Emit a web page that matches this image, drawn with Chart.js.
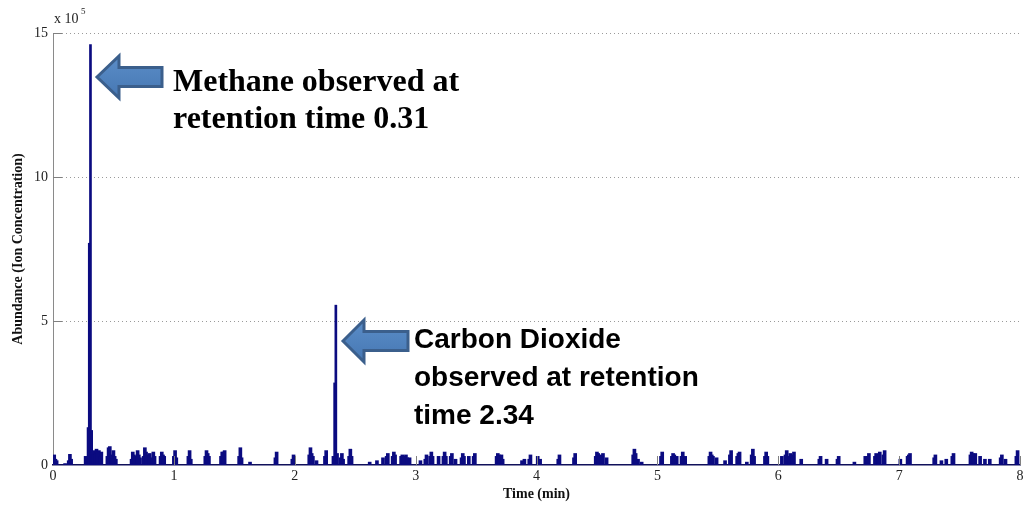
<!DOCTYPE html>
<html>
<head>
<meta charset="utf-8">
<script src="https://cdn.jsdelivr.net/npm/chart.js@4/dist/chart.umd.min.js"></script>
<style>
  html, body { margin: 0; padding: 0; background: #fff; }
  #wrap { width: 1031px; height: 506px; }
</style>
</head>
<body>
<div id="wrap"><canvas id="Chart" width="1031" height="506"></canvas></div>
<script>
// 主ピーク（メタン・二酸化炭素） 時間[min] / 強度[x10^5]
var peakTimes  = [0.29, 0.30, 0.31, 0.32, 2.33, 2.34];
var peakValues = [1.3,  7.7,  14.6, 1.2,  2.85, 5.55];

// ベースラインのノイズ（各ピークの頂点） 時間[min] / 強度[x10^5]
var noiseTimes = [
  0.01, 0.03, 0.10, 0.14, 0.27, 0.34, 0.36, 0.38, 0.40, 0.46, 0.47, 0.50, 0.52,
  0.66, 0.68, 0.70, 0.72, 0.76, 0.78, 0.80, 0.83, 0.90, 0.92, 1.01, 1.13, 1.27,
  1.29, 1.40, 1.42, 1.55, 1.63, 1.85, 1.99, 2.13, 2.15, 2.18, 2.26, 2.35, 2.39,
  2.46, 2.62, 2.68, 2.73, 2.77, 2.82, 2.89, 2.92, 2.95, 3.04, 3.09, 3.13, 3.19,
  3.24, 3.30, 3.33, 3.39, 3.44, 3.49, 3.68, 3.71, 3.88, 3.90, 3.95, 4.01, 4.03,
  4.19, 4.32, 4.50, 4.53, 4.55, 4.58, 4.81, 4.84, 4.87, 5.04, 5.13, 5.16, 5.21,
  5.23, 5.44, 5.46, 5.49, 5.56, 5.61, 5.67, 5.68, 5.74, 5.79, 5.90, 6.03, 6.07,
  6.10, 6.13, 6.19, 6.35, 6.40, 6.50, 6.63, 6.72, 6.75, 6.81, 6.84, 6.88, 7.01,
  7.08, 7.09, 7.30, 7.35, 7.39, 7.45, 7.60, 7.63, 7.67, 7.71, 7.75, 7.85, 7.88,
  7.98
];
var noiseValues = [
  0.35, 0.15, 0.05, 0.37, 0.30, 0.50, 0.55, 0.50, 0.45, 0.60, 0.64, 0.50, 0.20,
  0.45, 0.30, 0.50, 0.25, 0.60, 0.35, 0.40, 0.45, 0.45, 0.30, 0.50, 0.50, 0.50,
  0.30, 0.45, 0.50, 0.60, 0.10, 0.45, 0.35, 0.60, 0.30, 0.15, 0.50, 0.40, 0.40,
  0.55, 0.10, 0.15, 0.25, 0.40, 0.45, 0.35, 0.35, 0.25, 0.15, 0.35, 0.45, 0.30,
  0.45, 0.40, 0.20, 0.40, 0.30, 0.40, 0.40, 0.35, 0.15, 0.20, 0.35, 0.30, 0.20,
  0.35, 0.40, 0.45, 0.35, 0.40, 0.25, 0.55, 0.20, 0.10, 0.45, 0.40, 0.30, 0.45,
  0.30, 0.45, 0.30, 0.25, 0.15, 0.50, 0.40, 0.45, 0.10, 0.55, 0.45, 0.30, 0.50,
  0.40, 0.45, 0.20, 0.30, 0.20, 0.30, 0.10, 0.30, 0.40, 0.40, 0.45, 0.50, 0.20,
  0.35, 0.40, 0.35, 0.15, 0.20, 0.40, 0.45, 0.40, 0.30, 0.20, 0.20, 0.35, 0.20,
  0.50
];

// ノイズの裾（肩）部分
var shoulderTimes = [
  0.02, 0.13, 0.15, 0.33, 0.35, 0.37, 0.39, 0.45, 0.48, 0.49, 0.51, 0.65, 0.67,
  0.71, 0.75, 0.77, 0.82, 0.84, 0.89, 0.91, 1.00, 1.02, 1.12, 1.14, 1.26, 1.28,
  1.39, 1.41, 1.54, 1.56, 1.84, 1.98, 2.12, 2.14, 2.25, 2.32, 2.38, 2.40, 2.45,
  2.47, 2.76, 2.81, 2.83, 2.88, 2.90, 2.93, 3.08, 3.12, 3.14, 3.23, 3.25, 3.29,
  3.38, 3.40, 3.48, 3.67, 3.69, 3.72, 3.94, 4.18, 4.31, 4.49, 4.51, 4.54, 4.80,
  4.82, 5.03, 5.12, 5.14, 5.20, 5.43, 5.45, 5.60, 5.66, 5.78, 5.80, 5.89, 5.91,
  6.06, 6.09, 6.12, 6.34, 6.49, 6.74, 6.80, 6.83, 6.87, 7.07, 7.29, 7.44, 7.59,
  7.61, 7.84, 7.97
];
var shoulderValues = [
  0.20, 0.15, 0.20, 0.35, 0.40, 0.45, 0.30, 0.30, 0.35, 0.20, 0.30, 0.20, 0.35,
  0.35, 0.30, 0.45, 0.25, 0.30, 0.30, 0.35, 0.30, 0.25, 0.30, 0.20, 0.30, 0.40,
  0.30, 0.45, 0.30, 0.25, 0.25, 0.20, 0.35, 0.40, 0.30, 0.30, 0.25, 0.20, 0.30,
  0.30, 0.30, 0.30, 0.35, 0.30, 0.30, 0.25, 0.20, 0.30, 0.30, 0.30, 0.30, 0.30,
  0.25, 0.30, 0.30, 0.30, 0.35, 0.20, 0.20, 0.20, 0.25, 0.30, 0.40, 0.30, 0.35,
  0.40, 0.30, 0.30, 0.35, 0.30, 0.30, 0.35, 0.35, 0.30, 0.35, 0.30, 0.30, 0.30,
  0.35, 0.30, 0.35, 0.20, 0.20, 0.30, 0.30, 0.35, 0.35, 0.30, 0.25, 0.30, 0.35,
  0.40, 0.25, 0.30
];

// 軸の目盛り
var xTicks = [0, 1, 2, 3, 4, 5, 6, 7, 8];
var yTicks = [0, 5, 10, 15];

var barColor = "#0b0b80";
var serif = "'Liberation Serif', 'Times New Roman', serif";

function toXY(xs, ys) {
  var out = [];
  for (var i = 0; i < xs.length; i++) out.push({ x: xs[i], y: ys[i] });
  return out;
}

// 矢印と注釈、内向きの目盛り線
var overlay = {
  id: "overlay",
  afterDraw: function (chart) {
    var c = chart.ctx;
    var xs = chart.scales.x, ys = chart.scales.y;
    var area = chart.chartArea;
    c.save();

    // inward ticks (matlab style)
    c.strokeStyle = "#808080";
    c.lineWidth = 1;
    xTicks.forEach(function (v) {
      if (v === 0) return;
      var px = Math.round(xs.getPixelForValue(v)) + 0.5;
      c.beginPath(); c.moveTo(px, area.bottom); c.lineTo(px, area.bottom - 9); c.stroke();
    });
    yTicks.forEach(function (v) {
      if (v === 0) return;
      var py = Math.round(ys.getPixelForValue(v)) + 0.5;
      c.beginPath(); c.moveTo(area.left, py); c.lineTo(area.left + 9, py); c.stroke();
    });

    // x 10^5
    c.fillStyle = "#222";
    c.font = "14px " + serif;
    c.textBaseline = "alphabetic";
    c.fillText("x 10", area.left + 1, area.top - 10);
    c.font = "9px " + serif;
    c.fillText("5", area.left + 28, area.top - 19);

    // block arrows
    function arrow(tipX, tipY, headX, headH, shaftH, tailX) {
      c.beginPath();
      c.moveTo(tipX, tipY);
      c.lineTo(headX, tipY - headH);
      c.lineTo(headX, tipY - shaftH);
      c.lineTo(tailX, tipY - shaftH);
      c.lineTo(tailX, tipY + shaftH);
      c.lineTo(headX, tipY + shaftH);
      c.lineTo(headX, tipY + headH);
      c.closePath();
      var g = c.createLinearGradient(0, tipY - headH, 0, tipY + headH);
      g.addColorStop(0, "#5b8dc8");
      g.addColorStop(1, "#4677b3");
      c.fillStyle = g;
      c.fill();
      c.lineWidth = 3;
      c.lineJoin = "miter";
      c.strokeStyle = "#3b5f8c";
      c.stroke();
    }
    arrow(97, 77, 119, 21, 9.5, 162);
    arrow(343, 341, 364, 21, 9.5, 408);

    // annotation texts
    c.fillStyle = "#000";
    c.font = "bold 32px " + serif;
    c.fillText("Methane observed at", 173, 91);
    c.fillText("retention time 0.31", 173, 128);

    c.font = "bold 28px 'Liberation Sans', Arial, sans-serif";
    c.fillText("Carbon Dioxide", 414, 348);
    c.fillText("observed at retention", 414, 386);
    c.fillText("time 2.34", 414, 424);

    c.restore();
  }
};

var ctx = document.getElementById("Chart").getContext("2d");
var myChart = new Chart(ctx, {
  type: "bar",
  data: {
    datasets: [
      {
        label: "shoulders",
        data: toXY(shoulderTimes, shoulderValues),
        backgroundColor: barColor,
        barThickness: 3,
        grouped: false,
      },
      {
        label: "noise",
        data: toXY(noiseTimes, noiseValues),
        backgroundColor: barColor,
        barThickness: 3,
        grouped: false,
      },
      {
        label: "peaks",
        data: toXY(peakTimes, peakValues),
        backgroundColor: barColor,
        barThickness: 2,
        grouped: false,
      },
    ]
  },
  options: {
    responsive: false,
    animation: false,
    layout: { padding: { top: 33, right: 11, left: 0, bottom: 0 } },
    plugins: { legend: { display: false }, tooltip: { enabled: false } },
    scales: {
      x: {
        type: "linear",
        offset: false,
        min: 0,
        max: 8,
        afterBuildTicks: function (s) { s.ticks = xTicks.map(function (v) { return { value: v }; }); },
        afterFit: function (s) { s.height = 41; },
        ticks: { color: "#222", font: { family: serif, size: 14 }, padding: 3, maxRotation: 0 },
        grid: { display: false, drawTicks: false },
        border: { display: true, color: "#10105a", width: 1.5 },
        title: {
          display: true,
          text: "Time (min)",
          color: "#111",
          font: { family: serif, size: 14, weight: "bold" },
          padding: { top: 0, bottom: 3 },
        },
      },
      y: {
        min: 0,
        max: 15,
        afterBuildTicks: function (s) { s.ticks = yTicks.map(function (v) { return { value: v }; }); },
        afterFit: function (s) { s.width = 53; },
        ticks: { color: "#222", font: { family: serif, size: 14 }, padding: 5 },
        grid: {
          drawTicks: false,
          color: function (c) { return c.tick.value === 0 ? "rgba(0,0,0,0)" : "#9a9a9a"; },
          lineWidth: 1,
        },
        border: { display: true, color: "#8a8a8a", width: 1, dash: [1, 3], dashOffset: 0 },
        title: {
          display: true,
          text: "Abundance (Ion Concentration)",
          color: "#111",
          font: { family: serif, size: 14, weight: "bold" },
          padding: { top: 10, bottom: 0 },
        },
      }
    }
  },
  plugins: [overlay]
});
</script>
</body>
</html>
